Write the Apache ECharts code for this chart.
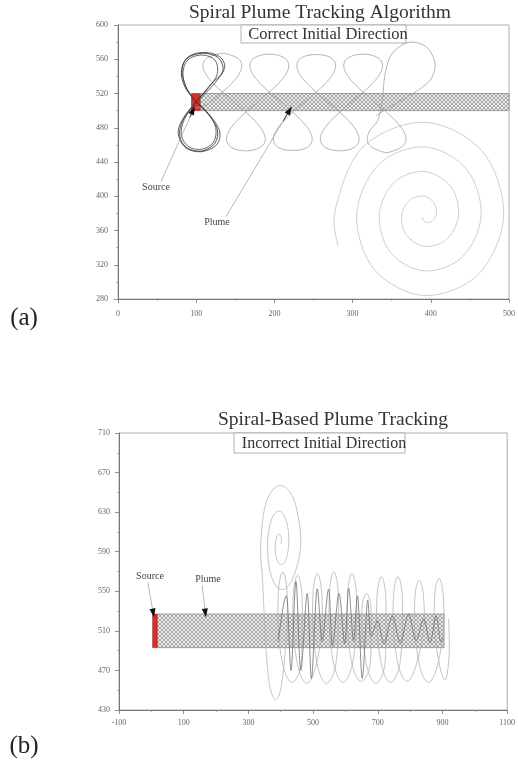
<!DOCTYPE html>
<html>
<head>
<meta charset="utf-8">
<script src="https://cdn.jsdelivr.net/npm/echarts@6/dist/echarts.min.js"></script>
<style>
  html, body { margin: 0; padding: 0; background: #fff; }
  #chart { width: 518px; height: 766px; }
</style>
</head>
<body>
<div id="chart"></div>
<script>
// ---------- Panel (a): correct initial direction ----------
const aXRange = [0, 500];
const aYRange = [280, 600];
const aPlumeX = [105, 500];
const aPlumeY = [500, 520];
const aSourceX = [94, 105];

// figure-eight passes made right at the source
const aSourceLoopPass1 = [[100,510],[116,495],[127,478],[124,462],[108,453],[89,456],[79,470],[83,489],[100,510],[118,530],[134,546],[128,562],[108,567],[88,561],[81,545],[86,527],[100,510]];
const aSourceLoopPass2 = [[100,510],[118,494],[130,476],[126,460],[106,452],[86,457],[77,474],[84,492],[100,510],[120,528],[136,549],[130,563],[110,568],[90,563],[82,548],[87,528],[100,510]];
const aSourceLoopPass3 = [[100,510],[115,497],[125,480],[122,463],[107,455],[90,458],[81,472],[85,490],[100,510],[116,527],[127,543],[124,559],[107,565],[89,559],[83,543],[88,525],[100,510]];

// casting loops travelling up the plume
const aCastingPath = [
  [98,503],[108,505],
  [118.5,510],[132.6,520.9],[144.9,531.4],[153.7,541.1],[158,549.6],[157.4,556.6],[152.4,561.7],[143.9,564.9],
  [133.5,567],[123.1,564.9],[114.6,561.7],[109.6,556.6],[109,549.6],[113.3,541.1],[122.1,531.4],[134.4,520.9],
  [148.5,510],[162.6,498.9],[174.9,488.2],[183.7,478.3],[188,469.7],[187.4,462.6],[182.4,457.3],[173.9,454.1],
  [163.5,453],[153.1,454.1],[144.6,457.3],[139.6,462.6],[139,469.7],[143.3,478.3],[152.1,488.2],[164.4,498.9],
  [178.5,510],[192.6,520.9],[204.9,531.4],[213.7,541.1],[218,549.6],[217.4,556.6],[212.4,561.7],[203.9,564.9],
  [193.5,566],[183.1,564.9],[174.6,561.7],[169.6,556.6],[169,549.6],[173.3,541.1],[182.1,531.4],[194.4,520.9],
  [208.5,510],[222.6,498.9],[234.9,488.2],[243.7,478.3],[248,469.7],[247.4,462.6],[242.4,457.3],[233.9,454.3],
  [223.5,453.5],[213.1,454.3],[204.6,457.3],[199.6,462.6],[199,469.7],[203.3,478.3],[212.1,488.2],[224.4,498.9],
  [238.5,510],[252.6,520.9],[264.9,531.4],[273.7,541.1],[278,549.6],[277.4,556.6],[272.4,561.7],[263.9,564.6],
  [253.5,565.5],[243.1,564.6],[234.6,561.7],[229.6,556.6],[229,549.6],[233.3,541.1],[242.1,531.4],[254.4,520.9],
  [268.5,510],[282.6,498.9],[294.9,488.2],[303.7,478.3],[308,469.7],[307.4,462.6],[302.4,457.3],[293.9,454.1],
  [283.5,453],[273.1,454.1],[264.6,457.3],[259.6,462.6],[259,469.7],[263.3,478.3],[272.1,488.2],[284.4,498.9],
  [298.5,510],[312.6,520.9],[324.9,531.4],[333.7,541.1],[338,549.6],[337.4,556.6],[332.4,561.7],[323.9,564.9],
  [313.5,566],[303.1,564.9],[294.6,561.7],[289.6,556.6],[289,549.6],[293.3,541.1],[302.1,531.4],[314.4,520.9],
  [328.5,510],[342.6,498.9],[354.9,488.2],[363.7,478.3],[368,469.7],[367.4,462.6],[362.4,457.3],[353.9,453.5],
  [343.5,451],[333.1,453.5],[324.6,457.3],[319.6,462.6],[319,469.7],[323.3,478.3],[332.1,488.2],
  [336,502],[339,520],[341,540],[348,563],[362,576],[378,580],[396,573],[405.5,555],[401,538],[390,528],
  [370,516],[342,501],[330,494]
];

// expanding search spiral
const aSpiralSearch = [
  [389.2,375.2],[392,370.4],[399.9,370.1],[406.8,378],[405,391],[392,400],[373.9,396.1],[362.8,378],
  [368.8,354.8],[392,341.6],[420.3,349.7],[435.6,378],[425.4,411.4],[392,428.8],[353.5,416.5],[334,378],
  [348.4,334.4],[392,312.8],[440.6,329.4],[464.4,378],[445.7,431.7],[392,457.6],[333.2,436.8],[305.2,378],
  [328.1,314.1],[392,284],[461,309],[493.2,378],[466.1,452.1],[392,486.4],[312.8,457.2],[278,385],[281,342]
];

// ---------- Panel (b): incorrect initial direction ----------
const bXRange = [-100, 1100];
const bYRange = [430, 710];
const bPlumeX = [18, 905];
const bPlumeY = [493, 527];
const bSourceX = [4, 18];

const bSpiralSearch = [
  [401,598],[402.2,602.2],[398,607],[389.5,606.5],[383,598],[385.3,585.3],[398,577],[415,581],
  [425,598],[419.2,619.2],[398,631],[372.5,623.5],[359,598],[368.3,568.3],[398,552],[434.8,561.2],
  [462,598],[441.8,641.8],[398,657],[355.6,640.4],[338,598],[344,560],[350,520],[355,488],
  [365,456],[381,441],[397,447],[409,472],[416,498]
];

const bCastingLoops = [
  [416,498],
  [420,512],[418.9,552.7],[406.2,569.6],[393.6,552.7],[392.5,512],[407.8,473.8],[434.7,458],[461.7,473.8],
  [466,512],[464.9,550.3],[452.2,566.2],[439.6,550.3],[438.5,512],[453.8,473.1],[480.7,457],[507.7,473.1],
  [527,512],[525.9,551.5],[513.2,567.9],[500.6,551.5],[499.5,512],[514.8,473.1],[541.7,457],[568.7,473.1],
  [578,512],[576.9,552.7],[564.2,569.6],[551.6,552.7],[550.5,512],[565.8,473.8],[592.7,458],[619.7,473.8],
  [634,512],[632.9,551.5],[620.2,567.9],[607.6,551.5],[606.5,512],[621.8,474.5],[648.7,459],[675.7,474.5],
  [679,512],[677.9,537.2],[665.2,547.7],[652.6,537.2],[651.5,512],[666.8,473.1],[693.7,457],[720.7,473.1],
  [725,512],[723.9,549.1],[711.2,564.5],[698.6,549.1],[697.5,512],[712.8,473.8],[739.7,458],[766.7,473.8],
  [776,512],[774.9,549.1],[762.2,564.5],[749.6,549.1],[748.5,512],[763.8,474.5],[790.7,459],[817.7,474.5],
  [842,512],[840.9,546.8],[828.2,561.2],[815.6,546.8],[814.5,512],[829.8,473.8],[856.7,458],[883.7,473.8],
  [903,512],[901.9,548],[889.2,562.9],[876.6,548],[875.5,512],[890.8,475.2],[910,461],[921,488],[919,522]
];

// straight surges while inside the plume
const bPlumeSurges = [
  [392,500],[418,545],[432,470],[447,560],[462,470],[482,548],[495,462],[512,552],[528,500],[548,552],
  [560,495],[580,548],[598,497],[610,553],[625,500],[638,545],[652,462],[668,540],[678,505],[700,520],
  [720,497],[745,525],[770,498],[795,527],[818,500],[842,522],[862,498],[880,525],[893,500],[902,503]
];

// annotation arrows: [label end, tip]
const aArrows = [[[55, 417], [96, 500.5]], [[138, 376], [219.5, 500.5]]];
const bArrows = [[[-11, 559], [6, 528]], [[157, 556], [167, 528]]];

// ---------- drawing ----------
const SERIF = '"Liberation Serif", "DejaVu Serif", serif';

function hatch() {
  const c = document.createElement('canvas');
  c.width = 4; c.height = 4;
  const g = c.getContext('2d');
  g.fillStyle = '#ebebeb';
  g.fillRect(0, 0, 4, 4);
  g.fillStyle = '#a8a8a8';
  for (let i = 0; i < 4; i++) {
    g.fillRect(i, i, 1, 1);
    g.fillRect(3 - i, i, 1, 1);
  }
  return c;
}
const hatchFill = { image: hatch(), repeat: 'repeat' };

function valueAxis(grid, range, interval, margin) {
  return {
    type: 'value', gridIndex: grid, min: range[0], max: range[1], interval: interval,
    axisLine: { show: true, onZero: false, lineStyle: { color: '#777', width: 1 } },
    axisTick: { show: true, length: 4, lineStyle: { color: '#777', width: 0.8 } },
    minorTick: { show: true, splitNumber: 2, length: 2, lineStyle: { color: '#888', width: 0.6 } },
    splitLine: { show: false },
    axisLabel: { fontFamily: SERIF, fontSize: 8, color: '#666', margin: margin, formatter: v => String(v) }
  };
}

// smooth trajectory: a Catmull-Rom segment between consecutive recorded positions
function curve(points, xi, color, width, z) {
  const n = points.length;
  return {
    type: 'custom', xAxisIndex: xi, yAxisIndex: xi, data: points, z: z || 3,
    silent: true, clip: true,
    encode: { x: 0, y: 1 },
    renderItem: function (params, api) {
      const i = params.dataIndex;
      if (i >= n - 1) return null;
      const p0 = api.coord(points[Math.max(i - 1, 0)]);
      const p1 = api.coord(points[i]);
      const p2 = api.coord(points[i + 1]);
      const p3 = api.coord(points[Math.min(i + 2, n - 1)]);
      return {
        type: 'bezierCurve',
        shape: {
          x1: p1[0], y1: p1[1], x2: p2[0], y2: p2[1],
          cpx1: p1[0] + (p2[0] - p0[0]) / 6, cpy1: p1[1] + (p2[1] - p0[1]) / 6,
          cpx2: p2[0] - (p3[0] - p1[0]) / 6, cpy2: p2[1] - (p3[1] - p1[1]) / 6
        },
        style: { stroke: color, lineWidth: width, fill: 'none' }
      };
    }
  };
}

function plumeSeries(xi, plumeX, plumeY, srcX, arrows) {
  const lineItems = [];
  arrows.forEach(a => {
    lineItems.push([{ coord: a[0] }, { coord: a[1] }]);
    // short dark stub carrying the arrowhead
    const f = 0.9;
    const s = [a[0][0] + (a[1][0] - a[0][0]) * f, a[0][1] + (a[1][1] - a[0][1]) * f];
    lineItems.push([
      { coord: s, lineStyle: { color: '#111', width: 0.8 } },
      { coord: a[1], symbol: 'triangle', symbolSize: [6, 9] }
    ]);
  });
  return {
    type: 'line', xAxisIndex: xi, yAxisIndex: xi, data: [], z: 1, silent: true,
    markArea: {
      silent: true,
      data: [
        [{ coord: [plumeX[0], plumeY[0]], itemStyle: { color: hatchFill, borderColor: '#8c8c8c', borderWidth: 0.8 } },
         { coord: [plumeX[1], plumeY[1]] }],
        [{ coord: [srcX[0], plumeY[0]], itemStyle: { color: '#d8302c', borderColor: '#a82020', borderWidth: 0.6 } },
         { coord: [srcX[1], plumeY[1]] }]
      ]
    },
    markLine: {
      silent: true, symbol: ['none', 'none'],
      label: { show: false },
      lineStyle: { color: '#8a8a8a', width: 0.6, type: 'solid' },
      data: lineItems
    }
  };
}

function label(text, x, y, size, color, z) {
  return { type: 'text', x: x, y: y, z: z || 10,
    style: { text: text, font: size + 'px ' + SERIF, fill: color, textAlign: 'center', textVerticalAlign: 'middle' } };
}

const chart = echarts.init(document.getElementById('chart'), null, { renderer: 'canvas' });

chart.setOption({
  animation: false,
  backgroundColor: '#fff',
  grid: [
    { left: 118, top: 25, width: 393, height: 274, show: true, borderColor: '#999', borderWidth: 0.8, containLabel: false },
    { left: 119, top: 433, width: 393, height: 277, show: true, borderColor: '#999', borderWidth: 0.8, containLabel: false }
  ],
  xAxis: [
    valueAxis(0, aXRange, 100, 11),
    valueAxis(1, bXRange, 200, 9)
  ],
  yAxis: [
    valueAxis(0, aYRange, 40, 10),
    valueAxis(1, bYRange, 40, 9)
  ],
  series: [
    plumeSeries(0, aPlumeX, aPlumeY, aSourceX, aArrows),
    curve(aSpiralSearch, 0, '#b9b9b9', 0.7),
    curve(aCastingPath, 0, '#9c9c9c', 0.75),
    curve(aSourceLoopPass1, 0, '#2a2a2a', 0.8, 4),
    curve(aSourceLoopPass2, 0, '#3a3a3a', 0.8, 4),
    curve(aSourceLoopPass3, 0, '#444', 0.8, 4),

    plumeSeries(1, bPlumeX, bPlumeY, bSourceX, bArrows),
    curve(bSpiralSearch, 1, '#adadad', 0.7),
    curve(bCastingLoops, 1, '#ababab', 0.7),
    curve(bPlumeSurges, 1, '#6e6e6e', 0.8, 4)
  ],
  graphic: [
    label('Spiral Plume Tracking Algorithm', 320, 13, 19.5, '#333'),
    { type: 'rect', shape: { x: 241, y: 25, width: 165, height: 18 }, style: { fill: '#fff', stroke: '#a0a0a0', lineWidth: 0.8 }, z: 50 },
    label('Correct Initial Direction', 328, 34.5, 16.5, '#333', 51),
    label('Source', 156, 187, 10, '#444'),
    label('Plume', 217, 222, 10, '#444'),
    label('(a)', 24, 318, 25, '#222'),

    label('Spiral-Based Plume Tracking', 333, 420, 19.5, '#333'),
    { type: 'rect', shape: { x: 234, y: 433, width: 171, height: 20 }, style: { fill: '#fff', stroke: '#a0a0a0', lineWidth: 0.8 }, z: 50 },
    label('Incorrect Initial Direction', 324, 443.5, 16, '#333', 51),
    label('Source', 150, 576, 10, '#444'),
    label('Plume', 208, 579, 10, '#444'),
    label('(b)', 24, 746, 25, '#222')
  ]
});
</script>
</body>
</html>
